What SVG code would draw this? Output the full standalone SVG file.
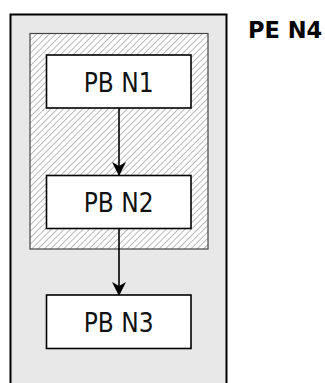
<svg xmlns="http://www.w3.org/2000/svg" width="325" height="383" viewBox="0 0 325 383">
<style>
.node rect{fill:#ffffff;stroke:#000000;stroke-width:1.6}
.node text{font-family:"DejaVu Sans Condensed","DejaVu Sans",sans-serif;font-size:26px;fill:#111111;text-anchor:middle}
.conn line{stroke:#000000;stroke-width:1.6}
</style>
<defs>
<pattern id="hatch" patternUnits="userSpaceOnUse" width="4.5" height="4.5" patternTransform="rotate(45)">
<rect width="4.5" height="4.5" fill="#ffffff"/>
<line x1="0" y1="0" x2="0" y2="4.5" stroke="#acacac" stroke-width="1.6"/>
</pattern>
<marker id="arr" viewBox="0 0 14 14" refX="13" refY="7" markerWidth="14" markerHeight="14" markerUnits="userSpaceOnUse" orient="auto">
<path d="M0,0 L14,7 L0,14 L4,7 Z" fill="#000000"/>
</marker>
</defs>
<g id="PE_N4">
<rect x="10.5" y="14.5" width="216" height="380" fill="#e8e8e8" stroke="#000000" stroke-width="2"/>
<text x="248" y="37.5" font-family="DejaVu Sans,sans-serif" font-size="22.5" font-weight="bold" fill="#000000">PE N4</text>
</g>
<g id="cluster">
<rect x="30" y="33.5" width="178" height="215.5" fill="url(#hatch)" stroke="#444444" stroke-width="1.2"/>
</g>
<g class="conn" id="connectors">
<line x1="119" y1="108" x2="119" y2="175" marker-end="url(#arr)"/>
<line x1="119" y1="228.5" x2="119" y2="295" marker-end="url(#arr)"/>
</g>
<g class="node" id="PB_N1">
<rect x="46.5" y="55" width="144.5" height="53"/>
<text x="118.75" y="91.5">PB N1</text>
</g>
<g class="node" id="PB_N2">
<rect x="46.5" y="175.5" width="144.5" height="53"/>
<text x="118.75" y="212">PB N2</text>
</g>
<g class="node" id="PB_N3">
<rect x="46.5" y="295" width="144.5" height="53.5"/>
<text x="118.75" y="331.5">PB N3</text>
</g>
</svg>
